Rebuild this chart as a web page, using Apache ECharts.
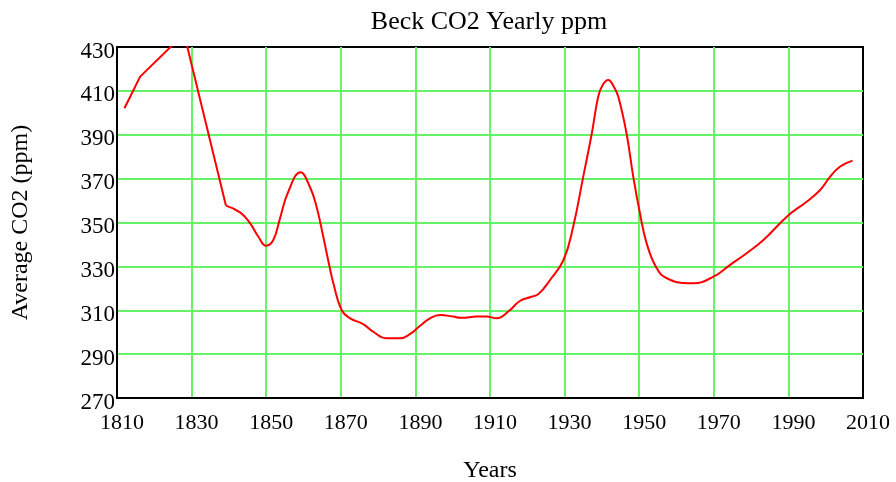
<!DOCTYPE html>
<html>
<head>
<meta charset="utf-8">
<script src="https://cdn.jsdelivr.net/npm/echarts@6/dist/echarts.min.js"></script>
<style>
  html, body { margin: 0; padding: 0; background: #ffffff; }
  #chart { width: 896px; height: 482px; }
</style>
</head>
<body>
<div id="chart"></div>
<script>
// Early sparse record (straight segments)
const earlyYears = [1812, 1816.2, 1828, 1839.2];
const earlyPpm = [402.1, 416.5, 436, 357.7];

// Smoothed yearly record from 1839 onward
const curveYears = [1839.2, 1843, 1845.7, 1847.9, 1850, 1851.9, 1853.7, 1855.9, 1859.2, 1861.7,
  1863.5, 1865.3, 1866.9, 1868, 1870.2, 1872.5, 1876, 1878.7, 1882.3, 1885.9,
  1888.6, 1891.2, 1893.9, 1896.6, 1900.2, 1902, 1906.4, 1909, 1911.8, 1914.9,
  1918, 1920.7, 1923, 1926.1, 1929.7, 1932.3, 1935, 1937.3, 1939, 1940.2,
  1941.7, 1943.2, 1944.4, 1946.6, 1948.4, 1950.2, 1952, 1954.7, 1957.4, 1963.2,
  1964.5, 1969.9, 1974.3, 1978.8, 1983.3, 1989.8, 1994.9, 1998.5, 2001.2, 2003.8,
  2007.2];
const curvePpm = [357.7, 354.6, 349.6, 343.5, 339.4, 342.0, 351.9, 364.0, 372.9, 366.3,
  357.2, 343.5, 330.5, 322.3, 310.1, 306.3, 303.7, 300.2, 297.2, 297.2,
  299.2, 302.8, 306.3, 307.8, 307.1, 306.6, 307.1, 307.2, 306.3, 309.4,
  314.2, 315.9, 317.4, 323.8, 332.9, 348.1, 370.9, 390.7, 407.3, 412.7,
  415.0, 411.9, 407.3, 390.7, 370.9, 354.2, 340.5, 329.1, 324.6, 322.3,
  322.3, 325.3, 330.6, 336.0, 342.0, 353.0, 359.5, 364.8, 370.9, 375.4,
  378.2];

// Axis settings
const xTicks = { min: 1810, max: 2010, step: 20 };
const yTicks = { min: 270, max: 430, step: 20 };

const pair = (xs, ys) => xs.map((x, i) => [x, ys[i]]);

const font = 'Liberation Serif, Times New Roman, serif';
const gridGreen = '#66f466';

const chart = echarts.init(document.getElementById('chart'), null, { renderer: 'canvas' });
chart.setOption({
  animation: false,
  backgroundColor: '#ffffff',
  title: {
    text: 'Beck CO2 Yearly ppm',
    left: 484,
    textAlign: 'center',
    top: 4,
    textStyle: { fontFamily: font, fontSize: 26, fontWeight: 'normal', color: '#000' }
  },
  grid: {
    left: 117, right: 33, top: 47, bottom: 84,
    outerBoundsMode: 'none',
    containLabel: false,
    show: true, borderColor: '#000', borderWidth: 2, backgroundColor: 'transparent'
  },
  xAxis: {
    type: 'value',
    min: xTicks.min, max: xTicks.max, interval: xTicks.step,
    name: 'Years',
    nameLocation: 'middle',
    nameGap: 61,
    nameTextStyle: { fontFamily: font, fontSize: 24, color: '#000' },
    axisLine: { show: true, onZero: false, lineStyle: { color: '#000', width: 2 } },
    axisTick: { show: false },
    axisLabel: {
      fontFamily: font, fontSize: 22, color: '#000', margin: 14,
      padding: [0, 0, 0, 10],
      formatter: v => String(v)
    },
    splitLine: { show: true, showMinLine: false, showMaxLine: false, lineStyle: { color: gridGreen, width: 2 } }
  },
  yAxis: {
    type: 'value',
    min: yTicks.min, max: yTicks.max, interval: yTicks.step,
    name: 'Average CO2 (ppm)',
    nameLocation: 'middle',
    nameGap: 84,
    nameTextStyle: { fontFamily: font, fontSize: 24, color: '#000' },
    axisLine: { show: true, onZero: false, lineStyle: { color: '#000', width: 2 } },
    axisTick: { show: false },
    axisLabel: {
      fontFamily: font, fontSize: 23, color: '#000', margin: 2,
      verticalAlign: 'top', lineHeight: 9,
      formatter: v => String(v)
    },
    splitLine: { show: true, showMinLine: false, showMaxLine: false, lineStyle: { color: gridGreen, width: 2 } }
  },
  series: [
    {
      type: 'line',
      data: pair(earlyYears, earlyPpm),
      showSymbol: false,
      clip: true,
      lineStyle: { color: '#ff0000', width: 2 }
    },
    {
      type: 'line',
      data: pair(curveYears, curvePpm),
      smooth: 0.45,
      showSymbol: false,
      clip: true,
      lineStyle: { color: '#ff0000', width: 2 }
    }
  ]
});
</script>
</body>
</html>
